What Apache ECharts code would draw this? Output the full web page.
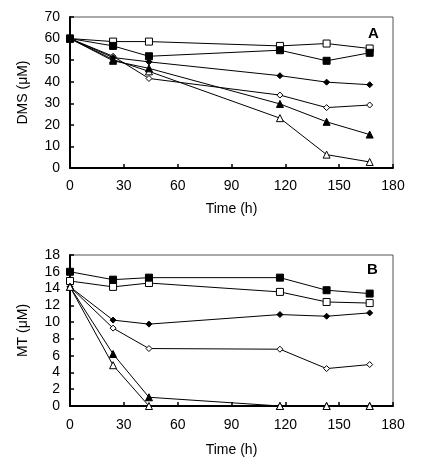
<!DOCTYPE html>
<html><head><meta charset="utf-8">
<script src="https://cdn.jsdelivr.net/npm/echarts@6/dist/echarts.min.js"></script>
<style>html,body{margin:0;padding:0;background:#fff}#c{width:421px;height:468px}</style>
</head><body><div id="c"></div>
<script>
const times = [0, 24, 44, 117, 143, 167];
const xTicks = [0, 30, 60, 90, 120, 150, 180];
// Panel A: DMS (µM)
const dmsOpenSquare   = [60, 58.6, 58.6, 56.6, 57.7, 55.4];
const dmsFilledSquare = [60, 56.6, 51.8, 54.6, 49.7, 53.4];
const dmsFilledDiam   = [60, 51.2, 49.2, 42.8, 39.8, 38.6];
const dmsOpenDiam     = [60, 51.8, 41.5, 33.8, 28.0, 29.2];
const dmsFilledTri    = [60, 49.7, 46.2, 29.7, 21.4, 15.5];
const dmsOpenTri      = [60, 50.3, 44.8, 23.1, 6.2, 2.8];
// Panel B: MT (µM)
const mtFilledSquare = [16.0, 15.06, 15.3, 15.3, 13.8, 13.4];
const mtOpenSquare   = [14.9, 14.2, 14.66, 13.6, 12.4, 12.27];
const mtFilledDiam   = [14.2, 10.24, 9.76, 10.9, 10.7, 11.1];
const mtOpenDiam     = [14.2, 9.28, 6.85, 6.77, 4.46, 4.94];
const mtFilledTri    = [14.2, 6.2, 1.04, 0, 0, 0];
const mtOpenTri      = [14.2, 4.86, 0, 0, 0, 0];

const FONT = 'Liberation Sans';
const pair = (ys) => times.map((t, i) => [t, ys[i]]);
const styles = {
  fsq: {symbol: 'rect', size: 7, fill: '#000'},
  osq: {symbol: 'rect', size: 7, fill: '#fff'},
  fdi: {symbol: 'diamond', size: 6, fill: '#000'},
  odi: {symbol: 'diamond', size: 6, fill: '#fff'},
  ftr: {symbol: 'triangle', size: 7, fill: '#000'},
  otr: {symbol: 'triangle', size: 7, fill: '#fff'}
};
function ser(ys, st, idx, z) {
  const s = styles[st];
  return {
    type: 'line', xAxisIndex: idx, yAxisIndex: idx, data: pair(ys),
    symbol: s.symbol, symbolSize: s.size, showSymbol: true,
    lineStyle: {color: '#000', width: 1},
    itemStyle: {color: s.fill, borderColor: '#000', borderWidth: 1},
    animation: false, z: z
  };
}
function xAx(idx, margin, gap) {
  return {
    type: 'value', gridIndex: idx, min: 0, max: 180, interval: 30,
    name: 'Time (h)', nameLocation: 'middle', nameGap: gap,
    nameTextStyle: {fontFamily: FONT, fontSize: 14, color: '#000'},
    axisLine: {lineStyle: {color: '#000', width: 2}},
    axisTick: {inside: true, length: 4, lineStyle: {color: '#000', width: 1.5}},
    axisLabel: {fontFamily: FONT, fontSize: 14, color: '#000', margin: margin},
    splitLine: {show: false}
  };
}
function yAx(idx, max, interval, name) {
  return {
    type: 'value', gridIndex: idx, min: 0, max: max, interval: interval,
    name: name, nameLocation: 'middle', nameGap: 40,
    nameTextStyle: {fontFamily: FONT, fontSize: 14, color: '#000'},
    axisLine: {lineStyle: {color: '#000', width: 2}},
    axisTick: {inside: true, length: 4, lineStyle: {color: '#000', width: 1.5}},
    axisLabel: {fontFamily: FONT, fontSize: 14, color: '#000', margin: 10},
    splitLine: {show: false}
  };
}
const chart = echarts.init(document.getElementById('c'), null, {renderer: 'canvas'});
chart.setOption({
  backgroundColor: '#fff',
  animation: false,
  grid: [
    {left: 70, right: 28, top: 17, height: 151, show: true, borderColor: '#555', borderWidth: 1},
    {left: 70, right: 28, top: 255, height: 151, show: true, borderColor: '#555', borderWidth: 1}
  ],
  graphic: [
    {type: 'text', left: 368, top: 26, style: {text: 'A', font: 'bold 15px "Liberation Sans"', fill: '#000'}},
    {type: 'text', left: 367, top: 262, style: {text: 'B', font: 'bold 15px "Liberation Sans"', fill: '#000'}}
  ],
  xAxis: [xAx(0, 11, 34), xAx(1, 12, 37)],
  yAxis: [yAx(0, 70, 10, 'DMS (μM)'), yAx(1, 18, 2, 'MT (μM)')],
  series: [
    ser(dmsOpenSquare, 'osq', 0, 3), ser(dmsFilledSquare, 'fsq', 0, 4), ser(dmsFilledDiam, 'fdi', 0, 4),
    ser(dmsOpenDiam, 'odi', 0, 3), ser(dmsFilledTri, 'ftr', 0, 4), ser(dmsOpenTri, 'otr', 0, 3),
    ser(mtFilledSquare, 'fsq', 1, 4), ser(mtOpenSquare, 'osq', 1, 3), ser(mtFilledDiam, 'fdi', 1, 4),
    ser(mtOpenDiam, 'odi', 1, 3), ser(mtFilledTri, 'ftr', 1, 4), ser(mtOpenTri, 'otr', 1, 5)
  ]
});
</script></body></html>
